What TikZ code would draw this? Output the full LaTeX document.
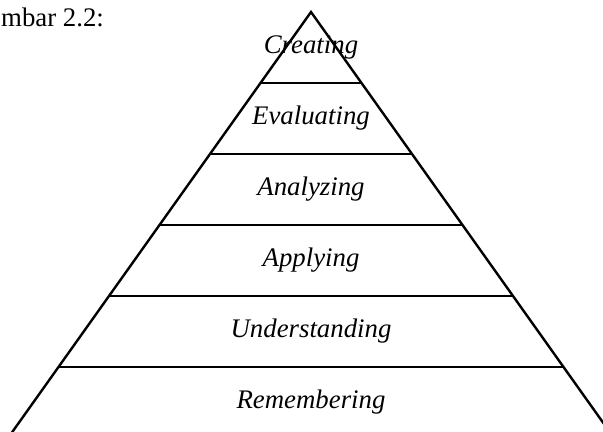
\documentclass[tikz,border=0pt]{standalone}
\usepackage{fontspec}
\setmainfont{Liberation Serif}
\usetikzlibrary{calc}

\begin{document}
\begin{tikzpicture}[x=0.5pt,y=-0.5pt,node distance=35.5pt,line width=1.2pt,
                    level node/.style={font=\fontsize{13.4}{16}\selectfont\itshape}]

 \useasboundingbox (0,0) rectangle (603,432);
 \clip (0,0) rectangle (603,432);

 \node[font=\fontsize{13.4}{16}\selectfont,anchor=base west,inner sep=0pt] (title) at (0,27) {mbar 2.2:};

 \coordinate (top) at (311,12);
 \coordinate (bl) at (8,438);
 \coordinate (br) at (614,438);

 \draw (bl) -- (top) -- (br);

 \foreach \i in {1,...,5} {
   \coordinate (l\i) at ($(top)!\i/6!(bl)$);
   \coordinate (r\i) at ($(top)!\i/6!(br)$);
   \draw (l\i) -- (r\i);
 }

 \node[level node] (1) at (311,47.5) {Creating};
 \node[level node] (2) [below of=1] {Evaluating};
 \node[level node] (3) [below of=2] {Analyzing};
 \node[level node] (4) [below of=3] {Applying};
 \node[level node] (5) [below of=4] {Understanding};
 \node[level node] (6) [below of=5] {Remembering};

\end{tikzpicture}
\end{document}
